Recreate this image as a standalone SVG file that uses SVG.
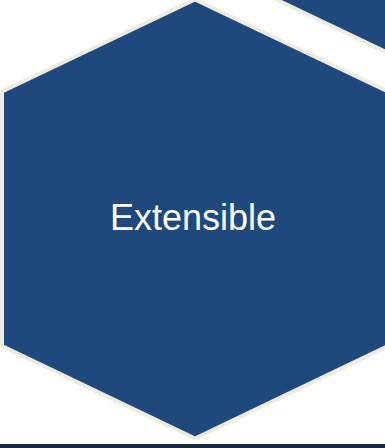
<svg xmlns="http://www.w3.org/2000/svg" width="385" height="448" viewBox="0 0 385 448">
  <style>
    .hex { fill: #1F497D; stroke: #EEECE1; stroke-width: 4; stroke-linejoin: miter; }
    .lbl { font-family: "Liberation Sans", Arial, sans-serif; font-size: 36px; fill: #FFFFFF; text-anchor: middle; }
  </style>
  <rect x="0" y="0" width="385" height="448" fill="#FFFFFF"/>
  <g id="node-neighbor">
    <polygon class="hex" points="400,-384 593,-292 593,-37 400,55 207,-37 207,-292" transform="translate(68,36)"/>
  </g>
  <g id="node-extensible">
    <polygon class="hex" points="195,-0.5 388,91.5 388,346 195,438.5 2,346 2,91.5"/>
    <text class="lbl" x="193" y="230">Extensible</text>
  </g>
  <g id="connectors"></g>
  <rect x="0" y="444" width="385" height="4" fill="#1B2A44"/>
</svg>
